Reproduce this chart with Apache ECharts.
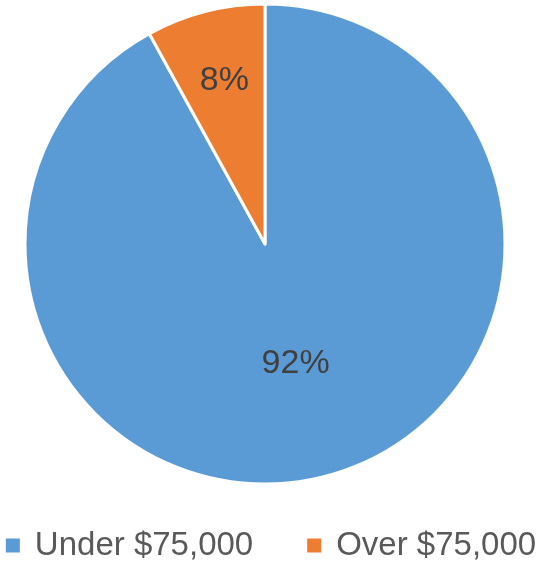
<!DOCTYPE html>
<html>
<head>
<meta charset="utf-8">
<style>
  html, body { margin: 0; padding: 0; background: #fff; }
  #chart { width: 540px; height: 566px; }
</style>
<script src="https://cdn.jsdelivr.net/npm/echarts@6/dist/echarts.min.js"></script>
</head>
<body>
<div id="chart"></div>
<script>
  var categories = ['Under $75,000', 'Over $75,000'];
  var shares = [92, 8];
  var colors = ['#5B9BD5', '#ED7D31'];

  var chart = echarts.init(document.getElementById('chart'));

  var pieData = categories.map(function (name, i) {
    var item = { name: name, value: shares[i], itemStyle: { color: colors[i] } };
    // small slice: Excel puts its label further out than the middle
    if (i === 1) item.label = { offset: [-10, -44] };
    return item;
  });

  chart.setOption({
    animation: false,
    legend: {
      bottom: 4,
      left: 'center',
      padding: 0,
      itemWidth: 16,
      itemHeight: 16,
      itemGap: 52,
      icon: 'rect',
      textStyle: { fontFamily: 'Liberation Sans', fontSize: 33, color: '#595959', padding: [0, 0, 0, 9] },
      data: categories
    },
    series: [{
      type: 'pie',
      center: [265, 244],
      radius: [0, 240],
      startAngle: 90,
      clockwise: true,
      itemStyle: { borderColor: '#fff', borderWidth: 3 },
      label: {
        position: 'inside',
        formatter: '{c}%',
        fontFamily: 'Liberation Sans',
        fontSize: 34,
        color: '#404040'
      },
      labelLine: { show: false },
      emphasis: { disabled: true },
      data: pieData
    }]
  });
</script>
</body>
</html>
